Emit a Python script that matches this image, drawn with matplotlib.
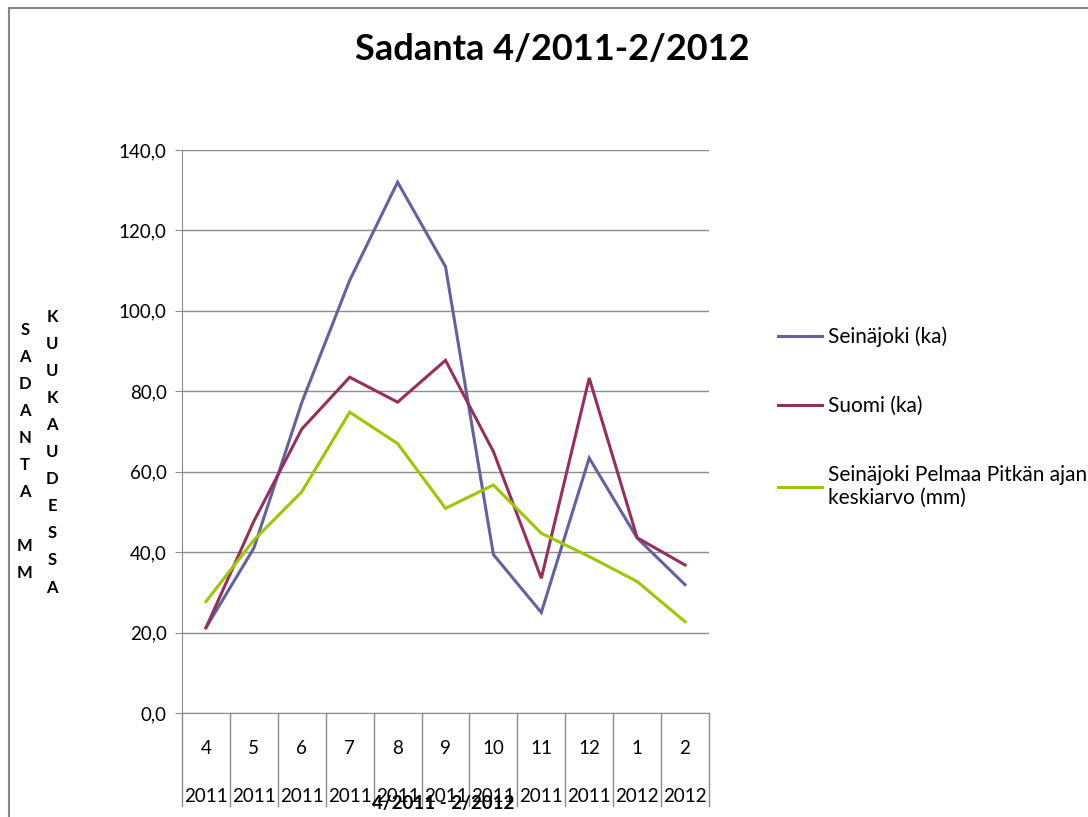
import matplotlib
matplotlib.use("Agg")
import matplotlib.pyplot as plt
import numpy as np
from matplotlib.patches import Rectangle

# Data
months = ["4", "5", "6", "7", "8", "9", "10", "11", "12", "1", "2"]
years = ["2011"] * 9 + ["2012"] * 2
seinajoki = [21.2, 41.0, 77.2, 107.6, 132.0, 111.0, 39.4, 25.0, 63.4, 43.5, 31.9]
suomi = [21.2, 47.7, 70.6, 83.5, 77.3, 87.7, 65.0, 33.5, 83.3, 43.6, 36.8]
pitka_ka = [27.7, 43.0, 55.0, 74.8, 67.0, 50.9, 56.7, 44.7, 38.9, 32.7, 22.7]
series_names = ["Seinäjoki (ka)", "Suomi (ka)",
                "Seinäjoki Pelmaa Pitkän ajan\nkeskiarvo (mm)"]
y_ticks = [0, 20, 40, 60, 80, 100, 120, 140]

plt.rcParams['font.family'] = ['Lato', 'DejaVu Sans']

W, H = 1088, 817
fig = plt.figure(figsize=(W / 100, H / 100), dpi=100)

# chart border (runs off right/bottom like the source)
fig.patches.append(Rectangle((9 / W, -0.1), 1.2, 1 - 8 / H + 0.1, transform=fig.transFigure,
                             fill=False, edgecolor="#868686", linewidth=1.5))

ax = fig.add_axes([182 / W, 1 - 713 / H, (709 - 182) / W, (713 - 150) / H])

colors = ["#62629E", "#962F60", "#9BC800"]
x = np.arange(len(months))
for vals, name, c in zip([seinajoki, suomi, pitka_ka], series_names, colors):
    ax.plot(x, vals, color=c, linewidth=2.2, label=name, solid_joinstyle="miter")

ax.set_xlim(-0.5, len(months) - 0.5)
ax.set_ylim(0, 140)
ax.set_yticks(y_ticks)
ax.set_yticklabels([f"{v:.1f}".replace(".", ",") for v in y_ticks], fontsize=13.5)
ax.yaxis.grid(True, color="#8c8c8c", linewidth=1)
ax.set_axisbelow(True)
ax.tick_params(axis="y", length=5, color="#8c8c8c", pad=6)
ax.set_xticks([])
for s in ["top", "right"]:
    ax.spines[s].set_visible(False)
for s in ["left", "bottom"]:
    ax.spines[s].set_color("#8c8c8c")

# category table below axis
tr = ax.get_xaxis_transform()
ax_h = 713 - 150
for b in np.arange(len(months) + 1) - 0.5:
    ax.plot([b, b], [0, -(806 - 713) / ax_h], color="#8c8c8c", linewidth=1,
            transform=tr, clip_on=False)
for i, (m, yr) in enumerate(zip(months, years)):
    ax.text(i, -(749 - 713) / ax_h, m, transform=tr, ha="center", va="center", fontsize=13.5)
    ax.text(i, -(796 - 713) / ax_h, yr, transform=tr, ha="center", va="center", fontsize=13.5)

fig.text(443 / W, 1 - 803 / H, "4/2011 - 2/2012", ha="center", va="center",
         fontsize=13.5, fontweight="bold")

# title
fig.text(552 / W, 1 - 50 / H, "Sadanta 4/2011-2/2012", ha="center", va="center",
         fontsize=26, fontweight="bold")

# stacked y label
fig.text(25 / W, 1 - 322 / H, "\n".join("SADANTA MM"), ha="center", va="top",
         fontsize=12, fontweight="bold", linespacing=1.85)
fig.text(52 / W, 1 - 309 / H, "\n".join("KUUKAUDESSA"), ha="center", va="top",
         fontsize=12, fontweight="bold", linespacing=1.85)

# legend
leg = fig.legend(loc="upper left", bbox_to_anchor=(759 / W, 1 - 308 / H), frameon=False,
                 fontsize=15, handlelength=2.1, handletextpad=0.3, labelspacing=2.35)
for t in leg.get_texts():
    t.set_linespacing(1.15)

fig.savefig("out.png", dpi=100)
